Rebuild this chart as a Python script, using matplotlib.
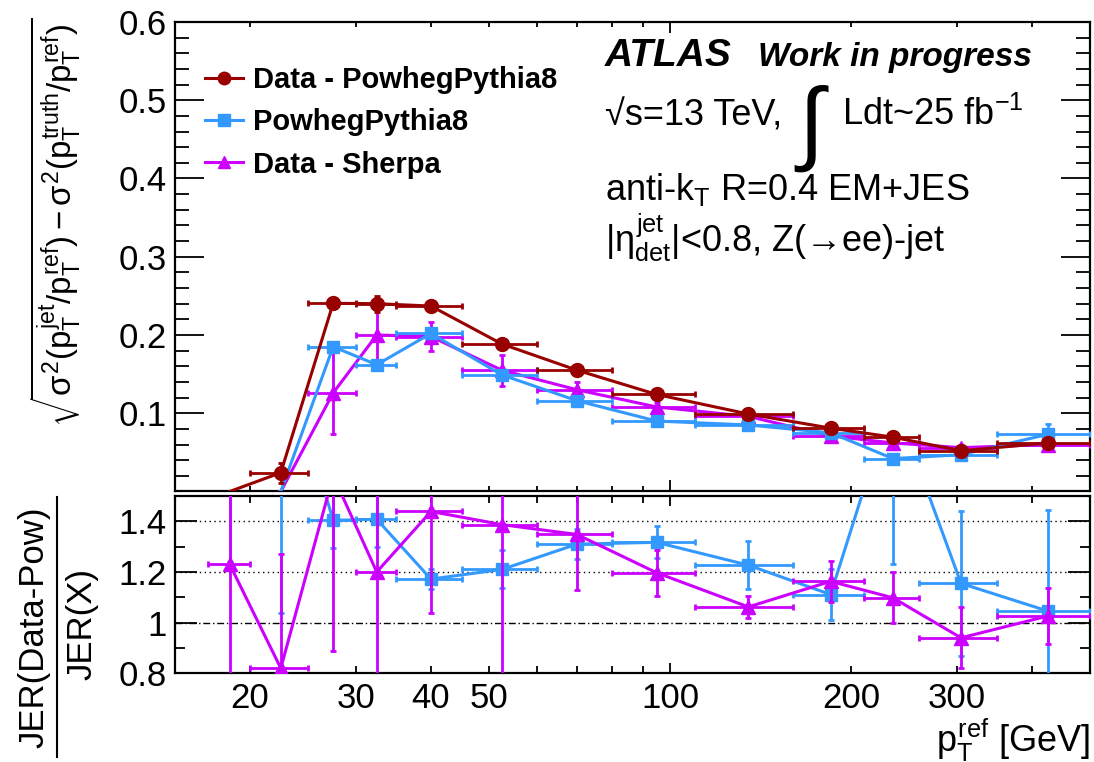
import numpy as np
import matplotlib
matplotlib.use("Agg")
import matplotlib.pyplot as plt
from matplotlib.ticker import FixedLocator, MultipleLocator, FuncFormatter
from matplotlib.lines import Line2D

plt.rcParams["font.family"] = ["Liberation Sans", "DejaVu Sans"]
plt.rcParams["mathtext.fontset"] = "custom"
plt.rcParams["mathtext.rm"] = "Liberation Sans"
plt.rcParams["mathtext.it"] = "Liberation Sans"
plt.rcParams["mathtext.bf"] = "Liberation Sans:bold"
plt.rcParams["mathtext.sf"] = "Liberation Sans"

# pT bins (GeV)
bin_edges = [17, 20, 25, 30, 35, 45, 60, 80, 110, 160, 210, 260, 350, 500]

# resolution (upper panel)
data_pow = [0.0, 0.024, 0.2405, 0.240, 0.237, 0.1885, 0.155, 0.124, 0.099, 0.081, 0.0694, 0.052, 0.062]
data_pow_err = [0.0, 0.013, 0.005, 0.010, 0.004, 0.004, 0.003, 0.003, 0.003, 0.003, 0.003, 0.003, 0.004]
pow_mc = [-0.02, 0.0, 0.185, 0.162, 0.202, 0.149, 0.116, 0.090, 0.085, 0.075, 0.042, 0.047, 0.073]
pow_mc_err = [0.0, 0.0, 0.005, 0.005, 0.005, 0.004, 0.004, 0.003, 0.003, 0.004, 0.003, 0.003, 0.013]
data_sherpa = [-0.02, 0.0, 0.126, 0.200, 0.198, 0.155, 0.130, 0.108, 0.096, 0.071, 0.062, 0.056, 0.060]
data_sherpa_err = [0.0, 0.0, 0.053, 0.040, 0.019, 0.020, 0.010, 0.006, 0.004, 0.004, 0.005, 0.003, 0.004]

# ratio JER(Data-Pow)/JER(X) (lower panel)
ratio_pow = [2.5, 2.1, 1.404, 1.408, 1.172, 1.21, 1.31, 1.317, 1.227, 1.111, 1.89, 1.155, 1.046]
ratio_pow_err = [1.26, 1.06, 0.11, 0.11, 0.04, 0.075, 0.058, 0.063, 0.095, 0.10, 0.66, 0.285, 0.40]
ratio_sherpa = [1.23, 0.82, 1.58, 1.20, 1.439, 1.387, 1.348, 1.197, 1.062, 1.163, 1.098, 0.940, 1.026]
ratio_sherpa_err = [0.6, 0.45, 0.69, 0.45, 0.40, 0.6, 0.22, 0.09, 0.045, 0.08, 0.10, 0.12, 0.11]

edges = np.array(bin_edges, dtype=float)
centers = 0.5 * (edges[1:] + edges[:-1])
halfw = 0.5 * (edges[1:] - edges[:-1])

RED = "#990000"
BLUE = "#3399ff"
MAG = "#cc00ff"

W, H = 1094, 762
fig = plt.figure(figsize=(W / 100, H / 100), dpi=100)


def fx(px):
    return px / W


def fy(py):
    return 1 - py / H


ax1 = fig.add_axes([fx(175), fy(490.7), fx(1090) - fx(175), fy(22) - fy(490.7)])
ax2 = fig.add_axes([fx(175), fy(673.3), fx(1090) - fx(175), fy(496) - fy(673.3)])

Y1LO = 0.001


def draw(ax, y, yerr, color, marker, ms, z, ylo):
    y = np.asarray(y, dtype=float)
    ym = np.where(y > ylo, y, np.nan)  # points below the axis: line only
    ax.errorbar(centers, ym, xerr=halfw, yerr=yerr, fmt="none", ecolor=color,
                elinewidth=2, capsize=2.2, capthick=2, zorder=z)
    ax.plot(centers, y, color=color, lw=2.2, zorder=z)
    ax.plot(centers, ym, ls="none", marker=marker, ms=ms, color=color,
            mec=color, zorder=z + 0.1)


draw(ax1, data_sherpa, data_sherpa_err, MAG, "^", 10, 3, Y1LO)
draw(ax1, pow_mc, pow_mc_err, BLUE, "s", 9, 4, Y1LO)
draw(ax1, data_pow, data_pow_err, RED, "o", 10, 5, Y1LO)

ax2.axhline(1.4, color="k", lw=1, ls=(0, (1, 2.5)), zorder=1)
ax2.axhline(1.2, color="k", lw=1, ls=(0, (1, 2.5)), zorder=1)
ax2.axhline(1.0, color="k", lw=1, ls=(0, (5, 2, 1, 2)), zorder=1)
draw(ax2, ratio_pow, ratio_pow_err, BLUE, "s", 9, 3, 0.0)
draw(ax2, ratio_sherpa, ratio_sherpa_err, MAG, "^", 10, 4, 0.0)

labelled = {20, 30, 40, 50, 100, 200, 300}
fmt_x = FuncFormatter(lambda v, p: f"{v:g}" if round(v) in labelled else "")

for ax in (ax1, ax2):
    ax.set_xscale("log")
    ax.set_xlim(15, 500)
    ax.xaxis.set_major_locator(FixedLocator([100]))
    ax.xaxis.set_minor_locator(FixedLocator([20, 30, 40, 50, 60, 70, 80, 90, 200, 300, 400]))
    ax.tick_params(which="both", direction="in", top=True, right=True, width=1.3,
                   labelsize=25, pad=6)
    for s in ax.spines.values():
        s.set_linewidth(1.6)

ax1.set_ylim(Y1LO, 0.6)
ax1.yaxis.set_major_locator(MultipleLocator(0.1))
ax1.yaxis.set_minor_locator(MultipleLocator(0.02))
ax1.yaxis.set_major_formatter(FuncFormatter(lambda v, p: f"{round(v, 2):g}"))
ax1.tick_params(axis="y", which="major", length=21)
ax1.tick_params(axis="y", which="minor", length=10)
ax1.tick_params(axis="x", which="major", length=8, labelbottom=False)
ax1.tick_params(axis="x", which="minor", length=3.6, labelbottom=False)

ax2.set_ylim(0.8, 1.5)
ax2.yaxis.set_major_locator(MultipleLocator(0.2))
ax2.yaxis.set_minor_locator(MultipleLocator(0.1))
ax2.yaxis.set_major_formatter(FuncFormatter(lambda v, p: f"{round(v, 2):g}"))
ax2.tick_params(axis="y", which="major", length=16)
ax2.tick_params(axis="y", which="minor", length=7)
ax2.tick_params(axis="x", which="major", length=7.5, pad=6)
ax2.tick_params(axis="x", which="minor", length=5, pad=6)
ax2.xaxis.set_major_formatter(fmt_x)
ax2.xaxis.set_minor_formatter(fmt_x)

# legend
handles = [
    Line2D([], [], color=RED, marker="o", ms=9, lw=2.2),
    Line2D([], [], color=BLUE, marker="s", ms=8, lw=2.2),
    Line2D([], [], color=MAG, marker="^", ms=9, lw=2.2),
]
labels = ["Data - PowhegPythia8", "PowhegPythia8", "Data - Sherpa"]
ax1.legend(handles, labels, loc="upper left", bbox_to_anchor=(fx(205), fy(66)),
           bbox_transform=fig.transFigure, frameon=False, numpoints=1,
           prop={"weight": "bold", "size": 21}, handlelength=1.3,
           handletextpad=0.33, labelspacing=0.49, borderpad=0, borderaxespad=0)

# ATLAS label block
fig.text(fx(605), fy(66), "ATLAS", fontsize=28, fontweight="bold",
         fontstyle="italic", va="baseline")
fig.text(fx(758), fy(66), "Work in progress", fontsize=24, fontweight="bold",
         fontstyle="italic", va="baseline")
fig.text(fx(605), fy(125), "\u221as=13 TeV,", fontsize=26, va="baseline")
fig.text(fx(798), fy(153), "\u222b", fontsize=66, va="baseline")
fig.text(fx(842), fy(125), "Ldt~25 fb$^{-1}$", fontsize=26, va="baseline")
fig.text(fx(605), fy(200), "anti-k$_{T}$ R=0.4 EM+JES", fontsize=26, va="baseline")
fig.text(fx(605), fy(252), "|$\\eta^{jet}_{det}$|<0.8, Z(\u2192ee)-jet",
         fontsize=26, va="baseline")

# axis titles
fig.text(fx(56), fy(222),
         r"$\sqrt{\sigma^{2}(p_{T}^{jet}/p_{T}^{ref})-\sigma^{2}(p_{T}^{truth}/p_{T}^{ref})}$",
         rotation=90, ha="center", va="center", fontsize=23.8)
fig.text(fx(34), fy(627), "JER(Data-Pow)", rotation=90, ha="center", va="center",
         fontsize=25)
fig.text(fx(82), fy(624), "JER(X)", rotation=90, ha="center", va="center", fontsize=25)
fig.add_artist(Line2D([fx(57), fx(57)], [fy(497), fy(757)], color="k", lw=1.5,
                      transform=fig.transFigure))
fig.text(fx(1090), fy(752), r"$p_{T}^{ref}$ [GeV]", ha="right", va="baseline",
         fontsize=26)

fig.savefig("out.png", dpi=100)
